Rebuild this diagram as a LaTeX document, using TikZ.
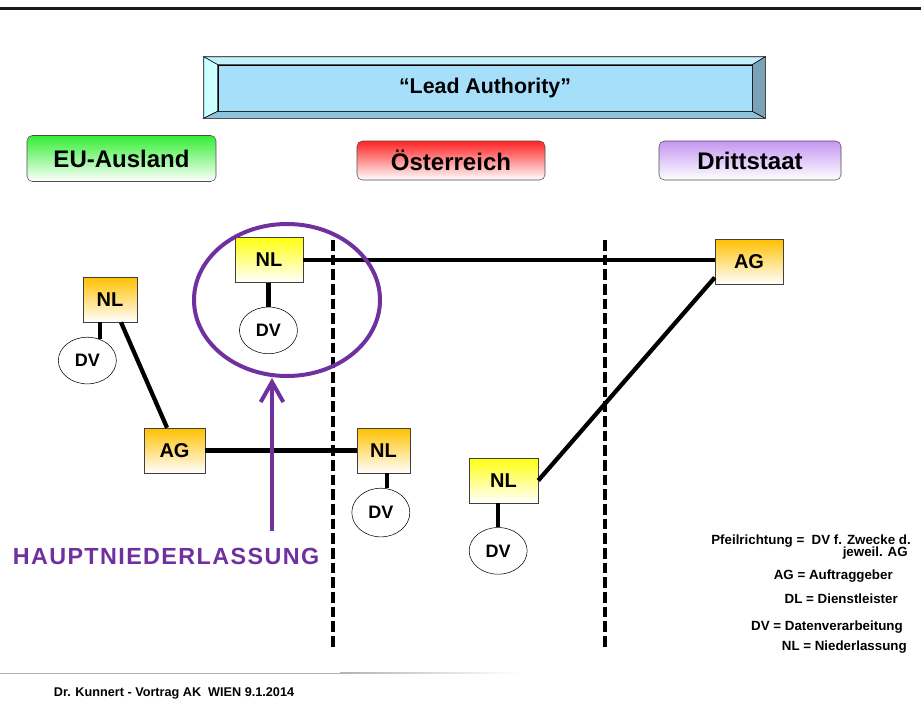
\documentclass[tikz,border=0pt]{standalone}
\usepackage{fontspec}
\setmainfont{Liberation Sans}
\usepackage{xcolor}
\usepackage{tikz}
\usetikzlibrary{shapes.geometric, arrows.meta, positioning}

\definecolor{hqpurple}{HTML}{7030A0}
\definecolor{boxorange}{HTML}{FFC000}
\definecolor{boxyellow}{HTML}{FFFF10}
\definecolor{eugreen}{HTML}{33EE33}
\definecolor{atred}{HTML}{FF2424}
\definecolor{drviolet}{HTML}{C496F2}
\definecolor{leadblue}{HTML}{A6DFFA}
\definecolor{bevtop}{HTML}{C2F0FC}
\definecolor{bevleft}{HTML}{CCFFFF}
\definecolor{bevbottom}{HTML}{8DC3DD}
\definecolor{bevright}{HTML}{7AA3B8}

\begin{document}
\begin{tikzpicture}[x=0.75pt, y=-0.75pt]

\useasboundingbox (0,0) rectangle (921,718);

% Styles
\tikzset{
  unit/.style={rectangle, draw=black!75, thin, minimum height=33.75pt, inner sep=0pt, text=black, font=\bfseries\fontsize{15}{15}\selectfont},
  nlo/.style={unit, top color=boxorange, bottom color=white},
  nly/.style={unit, top color=boxyellow, bottom color=white},
  dv/.style={ellipse, draw, thin, minimum width=43.5pt, minimum height=35pt, inner sep=0pt, font=\bfseries\fontsize{13.5}{13.5}\selectfont},
  land/.style={rectangle, rounded corners=4pt, draw=black!70, thin, inner sep=0pt, font=\bfseries\fontsize{18}{18}\selectfont},
  link/.style={line width=3.2pt},
  border/.style={line width=2.8pt, dash pattern=on 8pt off 3pt},
  legend/.style={anchor=east, inner sep=0pt, font=\bfseries\fontsize{10}{10}\selectfont}
}

% Header line
\draw [line width=2.2pt, black!90] (0,8.5) -- (921,8.5);

% Lead Authority
\node (lead) [rectangle, draw, thin, fill=leadblue, minimum width=400.5pt, minimum height=34.5pt, font=\bfseries\fontsize{16}{16}\selectfont] at (485,88) {``Lead Authority''};
\draw [thin, fill=bevtop] (lead.north west) -- ++(-14,-8) -- ([shift={(13,-8)}]lead.north east) -- (lead.north east) -- cycle;
\draw [thin, fill=bevleft] (lead.north west) -- ++(-14,-8) -- ([shift={(-14,7)}]lead.south west) -- (lead.south west) -- cycle;
\draw [thin, fill=bevbottom] (lead.south west) -- ++(-14,7) -- ([shift={(13,7)}]lead.south east) -- (lead.south east) -- cycle;
\draw [thin, fill=bevright] (lead.north east) -- ++(13,-8) -- ([shift={(13,7)}]lead.south east) -- (lead.south east) -- cycle;

% Countries
\node (eu) [land, top color=eugreen, bottom color=white, minimum width=141.75pt, minimum height=34.5pt] at (121.5,158.5) {EU-Ausland};
\node (at) [land, top color=atred, bottom color=white, minimum width=141pt, minimum height=29.25pt] at (451,160.5) {Österreich};
\node (dritt) [land, top color=drviolet, bottom color=white, minimum width=136.5pt, minimum height=29.25pt] at (750,160.5) {Drittstaat};

% Borders
\coordinate (euTop) at (333,240);
\coordinate (euEnd) at (333,647);
\coordinate (drTop) at (605,240);
\coordinate (drEnd) at (605,647);
\draw [border] (euTop) -- (euEnd);
\draw [border] (drTop) -- (drEnd);

% Units
\node (nlC) [nly, minimum width=51pt] at (269,260) {NL};
\node (dvC) [dv, below=18pt of nlC, xshift=-0.4pt] {DV};

\node (nlA) [nlo, minimum width=40.5pt] at (110,299.5) {NL};
\node (dvA) [dv, below=11pt of nlA, xshift=-17pt] {DV};

\node (agA) [nlo, minimum width=45.75pt] at (174.5,450.5) {AG};

\node (nlB) [nlo, minimum width=39.75pt] at (383.5,450.5) {NL};
\node (dvB) [dv, below=11pt of nlB, xshift=-2pt, minimum height=36.5pt] {DV};

\node (nlD) [nly, minimum width=51.75pt] at (503.5,480.5) {NL};
\node (dvD) [dv, below=18pt of nlD, xshift=-4pt] {DV};

\node (agB) [nlo, minimum width=51pt] at (749,261.5) {AG};

% Links
\draw [link] (nlC.east) -- (nlC.east -| agB.west);
\draw [link] (nlD.east) -- (agB.205);
\draw [link] ([xshift=8.25pt]nlA.south) -- ([xshift=-5.6pt]agA.north);
\draw [link] (agA.east) -- (agA.east -| nlB.west);

\draw [link] (dvC.north) -- (dvC.north |- nlC.south);
\draw [link] (dvA.60) -- (dvA.60 |- nlA.south);
\draw [link] ([xshift=2.6pt]nlB.south) -- ([xshift=2.6pt]nlB.south |- dvB.north);
\draw [link] (dvD.north) -- (dvD.north |- nlD.south);

% Hauptniederlassung
\node (hq) [ellipse, draw=hqpurple, line width=3pt, minimum width=139.5pt, minimum height=114pt] at (287,300) {};
\coordinate (hqFoot) at (272,531);
\draw [hqpurple, line width=3pt, -{Straight Barb[length=15pt, width=17pt]}] (hqFoot) -- (hqFoot |- hq.south);
\node (hqText) [text=hqpurple, inner sep=0pt, font=\bfseries\fontsize{17.5}{17.5}\selectfont\addfontfeature{LetterSpace=6}] at (166,556.5) {HAUPTNIEDERLASSUNG};

% Legend
\node (lgA) [legend] at (911,541) {Pfeilrichtung =\ \ DV f. Zwecke d.};
\node (lgB) [legend] at (908,553) {jeweil. AG};
\node (lgC) [legend] at (893,576) {AG = Auftraggeber};
\node (lgD) [legend] at (898,599) {DL = Dienstleister};
\node (lgE) [legend] at (903,627) {DV = Datenverarbeitung};
\node (lgF) [legend] at (907,647) {NL = Niederlassung};

% Footer
\fill [black!30] (0,672.5) rectangle (340,673.5);
\shade [left color=black!30, right color=white] (340,672.5) rectangle (520,673.5);
\node (footer) [inner sep=0pt, font=\bfseries\fontsize{9.5}{9.5}\selectfont] at (174,693) {Dr. Kunnert - Vortrag AK\ \ WIEN 9.1.2014};

\end{tikzpicture}
\end{document}
